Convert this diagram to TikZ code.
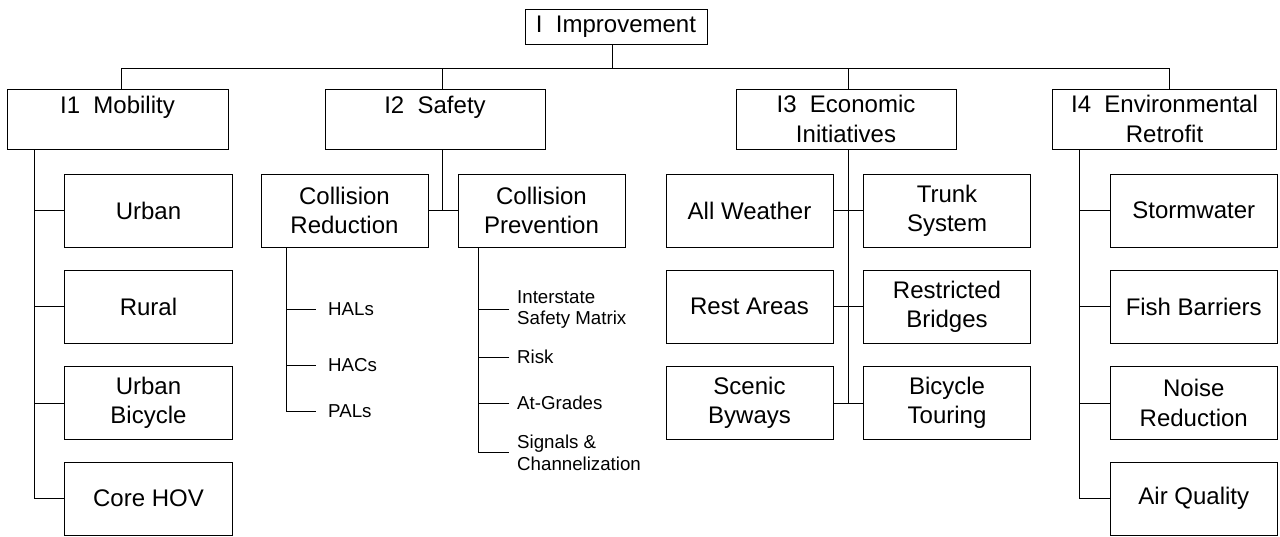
\documentclass[tikz,border=0pt]{standalone}
\usepackage{fontspec}
\setmainfont{Liberation Sans}
\begin{document}
\begin{tikzpicture}[x=1pt,y=-1pt,line width=1pt,
  box/.style={draw, line width=1pt, inner sep=0pt, align=center, font=\fontsize{24}{29.3}\selectfont},
  title/.style={box, minimum width=220pt, minimum height=60pt},
  sub/.style={box, minimum width=167pt, minimum height=73pt},
  leafa/.style={anchor=west, inner ysep=0pt, inner xsep=12pt, align=left, font=\fontsize{18.7}{21.7}\selectfont},
  leafb/.style={anchor=west, inner ysep=0pt, inner xsep=7.4pt, align=left, font=\fontsize{18.7}{21.7}\selectfont}]
\fill[white] (0,0) rectangle (1280,536);
\useasboundingbox (0,0) rectangle (1280,536);

% top
\node[box, minimum width=182pt, minimum height=35pt] (top) at (616,26.5) {I\ \ Improvement};
% level 1
\node[title, minimum width=221pt] (m) at (117.5,119) {I1\ \ Mobility\\\mbox{}};
\node[title] (s) at (435,119) {I2\ \ Safety\\\mbox{}};
\node[title] (e) at (846,119) {I3\ \ Economic\\Initiatives};
\node[title, minimum width=224pt] (v) at (1164.5,119) {I4\ \ Environmental\\Retrofit};

% mobility
\node[sub, minimum width=168pt] (m1) at (148.5,210.5) {Urban};
\node[sub, minimum width=168pt] (m2) at (148.5,306.5) {Rural};
\node[sub, minimum width=168pt] (m3) at (148.5,403) {Urban\\Bicycle};
\node[sub, minimum width=168pt] (m4) at (148.5,498.5) {Core HOV};

% safety
\node[sub] (cr) at (344.5,210.5) {Collision\\Reduction};
\node[sub] (cp) at (541.5,210.5) {Collision\\Prevention};
\node[leafa] (hals) at (315.7,309.5) {HALs};
\node[leafa] (hacs) at (315.7,365.5) {HACs};
\node[leafa] (pals) at (315.7,411) {PALs};
\node[leafb] (isaf) at (509.3,309.5) {Interstate\\Safety Matrix};
\node[leafb] (risk) at (509.3,357) {Risk};
\node[leafb] (atg) at (509.3,403.3) {At-Grades};
\node[leafb] (sig) at (509.3,452.5) {Signals \&\\Channelization};

% economic
\node[sub] (e1) at (749.5,210.5) {All Weather};
\node[sub] (e2) at (947,210.5) {Trunk\\System};
\node[sub] (e3) at (749.5,306.5) {Rest Areas};
\node[sub] (e4) at (947,306.5) {Restricted\\Bridges};
\node[sub] (e5) at (749.5,403) {Scenic\\Byways};
\node[sub] (e6) at (947,403) {Bicycle\\Touring};

% environmental
\node[sub, minimum width=167.5pt] (v1) at (1193.75,210.5) {Stormwater};
\node[sub, minimum width=167.5pt] (v2) at (1193.75,306.5) {Fish Barriers};
\node[sub, minimum width=167.5pt] (v3) at (1193.75,403) {Noise\\Reduction};
\node[sub, minimum width=167.5pt] (v4) at (1193.75,498.5) {Air Quality};

% bus
\coordinate (busL) at (121,68);
\coordinate (busR) at (1169,68);
\draw (busL) -- (busR);
\draw ([xshift=-4pt]top.south) -- ([xshift=-4pt]top.south |- busL);
\draw (busL) -- (busL |- m.north);
\draw ([xshift=7pt]s.north) -- ([xshift=7pt]s.north |- busL);
\draw ([xshift=2pt]e.north) -- ([xshift=2pt]e.north |- busL);
\draw (busR) -- (busR |- v.north);

% mobility spine
\coordinate (ms) at ([xshift=-82.8pt]m.south);
\draw (ms) |- (m4.west);
\foreach \i in {1,2,3} \draw (m\i.west) -- (m\i.west -| ms);

% safety
\draw ([xshift=7pt]s.south) -- ([xshift=7pt]s.south |- cr.east);
\draw (cr.east) -- (cp.west);
\coordinate (crs) at ([xshift=-58.5pt]cr.south);
\draw (crs) |- (pals.west);
\draw (hals.west) -- (hals.west -| crs);
\draw (hacs.west) -- (hacs.west -| crs);
\coordinate (cps) at ([xshift=-63.2pt]cp.south);
\draw (cps) |- (sig.west);
\draw (isaf.west) -- (isaf.west -| cps);
\draw (risk.west) -- (risk.west -| cps);
\draw (atg.west) -- (atg.west -| cps);

% economic
\draw ([xshift=2pt]e.south) -- ([xshift=2pt]e.south |- e5.east);
\draw (e1.east) -- (e2.west);
\draw (e3.east) -- (e4.west);
\draw (e5.east) -- (e6.west);

% environmental
\coordinate (vs) at ([xshift=-84.9pt]v.south);
\draw (vs) |- (v4.west);
\foreach \i in {1,2,3} \draw (v\i.west) -- (v\i.west -| vs);
\end{tikzpicture}
\end{document}
